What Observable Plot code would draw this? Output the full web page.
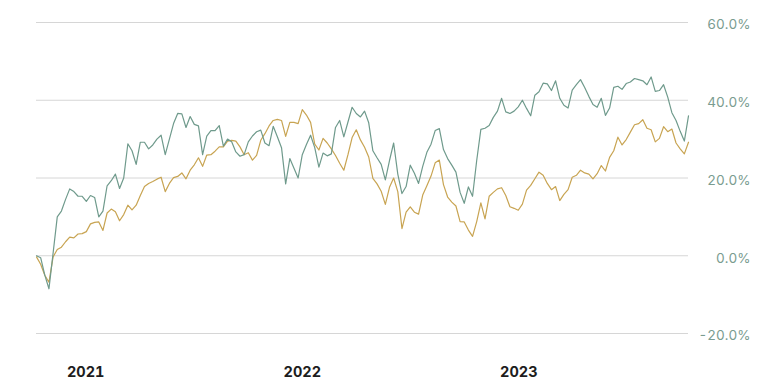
<!DOCTYPE html>
<html>
<head>
<meta charset="utf-8">
<script src="https://cdn.jsdelivr.net/npm/d3@7"></script>
<script src="https://cdn.jsdelivr.net/npm/@observablehq/plot@0.6"></script>
<style>
  html, body { margin: 0; padding: 0; background: #fff; }
  #chart { width: 759px; height: 391px; }
</style>
</head>
<body>
<div id="chart"></div>
<script>
// Weekly observations, cumulative return in %
const startDate = "2020-10-10";
const yTicks = [-20, 0, 20, 40, 60];
const xTicks = ["2021-01-01", "2022-01-01", "2023-01-01"];

const greenSeries = [
  0, -0.5, -5, -8.5, 0.7, 10, 11.5, 14.5, 17.2, 16.5,
  15.3, 15.3, 14, 15.5, 15, 10, 11.5, 18, 19.3, 21,
  17.3, 20, 28.8, 27, 23.5, 29.2, 29.2, 27.5, 28.5, 30,
  31, 26, 30, 34, 36.6, 36.5, 33, 35.8, 33.8, 33.4,
  26, 30.8, 32.2, 32.2, 33.5, 28.2, 30, 29.3, 26.7, 25.6,
  26, 29.3, 30.8, 31.9, 32.3, 29, 28.3, 33.3, 30.6, 27.8,
  18.5, 25, 22.5, 20, 26, 28.6, 31, 27.8, 22.8, 26.4,
  25.7, 26.2, 33, 34.8, 30.6, 34.4, 38.2, 36.6, 35.7, 37.2,
  34.2, 27, 25.2, 23.5, 19.5, 24.5, 29, 21, 16, 17.8,
  23.3, 21.2, 18.6, 23, 26.6, 28.7, 32.2, 32.7, 27.3, 25,
  23.3, 21.5, 16.3, 13.5, 17.7, 15.3, 24.5, 32.5, 32.8, 33.5,
  35.6, 37.2, 40.5, 37, 36.6, 37.2, 38.3, 40, 37.9, 36,
  41.3, 42.2, 44.4, 44.2, 42.5, 45, 40.5, 38.7, 38, 42.6,
  44, 45.3, 43.3, 41, 38.9, 38.2, 40.5, 36.1, 38, 43.3,
  43.6, 42.8, 44.3, 44.7, 45.6, 45.3, 45, 44, 46, 42.3,
  42.5, 44, 40.8, 36.8, 34.8, 32, 29.5, 36
];

const goldSeries = [
  -0.3, -2.2, -5, -6.8, -0.3, 1.6, 2.2, 3.6, 4.8, 4.6,
  5.6, 5.7, 6.2, 8.2, 8.6, 8.7, 6.5, 11, 12, 11.3,
  9, 10.6, 13, 11.8, 13, 15.5, 17.8, 18.6, 19.1, 19.7,
  20.2, 16.5, 18.6, 20.1, 20.4, 21.3, 19.8, 22, 23.4, 25.2,
  23, 25.9, 26, 26.9, 28, 28, 29.5, 29.7, 29.5, 28,
  26, 26.5, 24.6, 25.8, 29.7, 31.4, 33.4, 34.8, 35.1, 34.8,
  30.7, 34.3, 34.3, 34, 37.6, 36.2, 34.3, 28.7, 27.2, 30.2,
  29, 27.5, 25.8, 23.8, 22, 26, 30.4, 32.4, 29.8, 27.9,
  25.4, 19.9, 18.5, 16.6, 13.2, 17.6, 20, 16.5, 7, 11.2,
  12.6, 11.2, 10.7, 15.6, 18, 20.5, 23.9, 24.6, 18.3, 15.1,
  13.8, 12.8, 8.8, 8.7, 6.6, 5, 8.8, 13.6, 9.5, 15.3,
  16.3, 17.2, 17.5, 15.5, 12.6, 12.2, 11.7, 13.3, 16.9, 18.1,
  19.8, 21.5, 20.7, 18.6, 17, 17.8, 14.2, 15.8, 17, 20.2,
  20.7, 22, 21.3, 21, 19.8, 21.1, 23.2, 21.8, 25.3, 27,
  30.5, 28.5, 29.9, 31.8, 33.7, 34, 35, 32.8, 32.4, 29.3,
  30.2, 33.2, 31.9, 32.6, 29, 27.5, 26.2, 29.2
];

const start = new Date(startDate + "T00:00:00Z");
const dates = greenSeries.map((_, i) => d3.utcDay.offset(start, 7 * i));
const rows = [];
greenSeries.forEach((v, i) => rows.push({date: dates[i], value: v, series: "green"}));
goldSeries.forEach((v, i) => rows.push({date: dates[i], value: v, series: "gold"}));

const chart = Plot.plot({
  width: 759,
  height: 391,
  marginLeft: 36,
  marginRight: 71,
  marginTop: 22,
  marginBottom: 58,
  style: {fontFamily: "Inter, 'Open Sans', sans-serif", background: "#fff"},
  x: {type: "utc", domain: [dates[0], dates[dates.length - 1]]},
  y: {domain: [-20, 60]},
  marks: [
    Plot.gridY(yTicks, {stroke: "#d6d6d6", strokeOpacity: 1, strokeWidth: 1}),
    Plot.axisY(yTicks, {
      anchor: "right", tickSize: 0, tickPadding: 62, textAnchor: "end", dy: 2.5,
      tickFormat: d => d.toFixed(1) + "%", fill: "#7a9c90", fontSize: 13.5, label: null
    }),
    Plot.axisX(xTicks.map(d => new Date(d + "T00:00:00Z")), {
      anchor: "bottom", tickSize: 0, tickPadding: 33,
      tickFormat: d => d3.utcFormat("%Y")(d), fill: "#1d1d1d", fontSize: 14.5, fontWeight: 700, label: null
    }),
    Plot.line(rows.filter(d => d.series === "gold"), {x: "date", y: "value", stroke: "#c8a452", strokeWidth: 1.2}),
    Plot.line(rows.filter(d => d.series === "green"), {x: "date", y: "value", stroke: "#6f9a8c", strokeWidth: 1.2})
  ]
});
document.getElementById("chart").appendChild(chart);
</script>
</body>
</html>
